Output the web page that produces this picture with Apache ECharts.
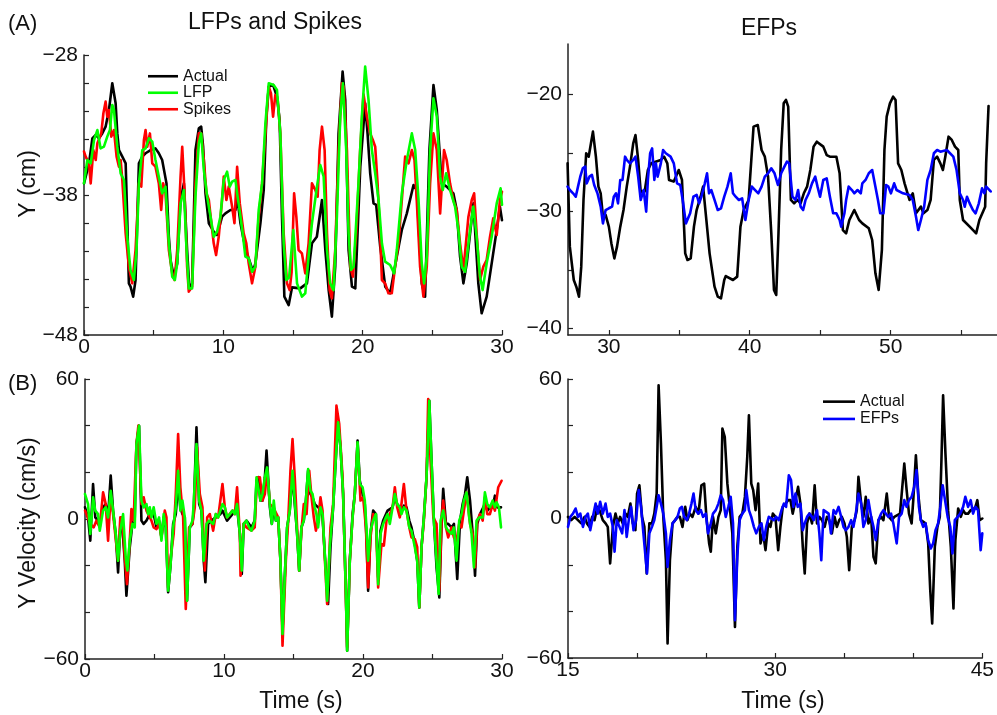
<!DOCTYPE html>
<html>
<head>
<meta charset="utf-8">
<script src="https://cdn.jsdelivr.net/npm/echarts@6/dist/echarts.min.js"></script>
<style>
html,body{margin:0;padding:0;background:#fff;}
#chart{width:997px;height:715px;}
</style>
</head>
<body>
<div id="chart"></div>
<script>
// ---------- DATA (time s, value) ----------
// Panel A left: Y position (cm), 0-30 s
const posActual = [[0,-37.17],[0.36,-35.74],[0.6,-33.95],[0.84,-33.71],[1.07,-33.95],[1.31,-33.6],[1.55,-33.12],[1.79,-31.93],[2.03,-30.02],[2.15,-30.14],[2.27,-31.45],[2.39,-33.6],[2.51,-34.79],[2.75,-35.26],[2.99,-35.74],[3.1,-39.55],[3.22,-44.31],[3.34,-44.55],[3.53,-45.26],[3.7,-44.07],[3.94,-35.74],[4.18,-35.26],[4.42,-35.02],[4.78,-34.79],[5.13,-34.67],[5.37,-35.02],[5.61,-35.5],[5.73,-35.38],[5.92,-37.17],[6.09,-40.98],[6.21,-42.64],[6.45,-43.83],[6.69,-42.88],[6.93,-38.36],[7.17,-37.17],[7.4,-41.93],[7.57,-44.79],[7.76,-44.31],[8,-34.79],[8.24,-33.24],[8.41,-33.12],[8.55,-34.55],[8.72,-37.88],[8.96,-40.02],[9.31,-40.62],[9.55,-40.86],[9.91,-39.55],[10.15,-39.31],[10.51,-39.07],[10.87,-39.07],[10.99,-38.12],[11.23,-40.02],[11.46,-41.21],[11.7,-42.17],[11.94,-42.88],[12.13,-43.48],[12.3,-42.88],[12.66,-40.02],[12.9,-37.64],[13.09,-32.4],[13.26,-30.26],[13.57,-30.14],[13.85,-30.98],[14.04,-32.64],[14.21,-39.55],[14.38,-45.26],[14.69,-45.86],[14.93,-44.6],[15.52,-44.67],[16,-44.31],[16.36,-41.45],[16.71,-40.98],[17.08,-38.36],[17.32,-41.93],[17.56,-44.79],[17.79,-46.69],[18.03,-43.12],[18.27,-33.6],[18.56,-29.19],[18.75,-31.21],[18.99,-41.93],[19.23,-44.55],[19.47,-44.67],[19.83,-35.98],[20.18,-31.45],[20.35,-33.6],[20.54,-36.45],[20.78,-38.6],[20.97,-38.71],[21.26,-41.69],[21.62,-44.55],[21.97,-45.02],[22.45,-42.4],[22.81,-40.5],[23.17,-39.31],[23.65,-37.29],[23.88,-37.64],[24.24,-44.31],[24.48,-45.26],[24.79,-34.79],[25.08,-30.14],[25.32,-31.93],[25.67,-37.17],[26.03,-37.4],[26.51,-37.88],[26.75,-39.07],[26.99,-42.4],[27.23,-44.31],[27.47,-42.88],[27.95,-38.6],[28.3,-44.31],[28.54,-46.45],[28.9,-45.26],[29.26,-42.88],[29.62,-40.5],[29.85,-38.83],[30,-39.8]];
const posLFP = [[0,-37.17],[0.24,-35.5],[0.48,-35.74],[0.72,-34.07],[0.96,-33.36],[1.19,-34.67],[1.43,-34.55],[1.67,-33.83],[1.86,-33.36],[2.03,-31.57],[2.15,-31.93],[2.39,-34.55],[2.63,-36.45],[2.87,-36.93],[3.1,-40.98],[3.34,-43.36],[3.58,-44.07],[3.77,-41.93],[3.94,-37.17],[4.18,-34.79],[4.42,-34.67],[4.66,-33.95],[4.9,-34.19],[5.13,-35.5],[5.37,-36.69],[5.61,-37.88],[5.85,-37.4],[6.09,-41.45],[6.33,-43.83],[6.52,-44.07],[6.69,-42.88],[6.93,-38.6],[7.17,-37.64],[7.36,-41.93],[7.52,-44.67],[7.76,-44.67],[8,-38.12],[8.24,-34.31],[8.41,-33.6],[8.6,-36.21],[8.84,-38.12],[9.08,-39.55],[9.31,-40.98],[9.55,-40.62],[9.79,-39.55],[10.03,-36.93],[10.27,-36.33],[10.46,-37.4],[10.63,-37.05],[10.87,-36.93],[10.99,-37.88],[11.23,-39.55],[11.42,-40.98],[11.58,-42.4],[11.82,-42.52],[12.06,-43.48],[12.3,-43.12],[12.54,-39.07],[12.78,-37.17],[13.02,-32.88],[13.26,-30.02],[13.61,-30.14],[13.85,-30.5],[14.09,-33.6],[14.33,-41.45],[14.52,-44.07],[14.72,-43.9],[15.02,-40.5],[15.29,-44.31],[15.64,-45.26],[15.88,-45.02],[16.12,-42.4],[16.36,-40.02],[16.72,-37.4],[16.96,-35.86],[17.2,-36.69],[17.44,-41.93],[17.67,-44.31],[17.91,-44.79],[18.15,-39.55],[18.39,-32.4],[18.58,-30.02],[18.82,-34.79],[18.99,-40.74],[19.16,-43.36],[19.35,-43.12],[19.7,-37.17],[19.94,-32.4],[20.18,-28.83],[20.42,-31.21],[20.66,-34.79],[20.9,-36.45],[21.14,-38.36],[21.38,-41.45],[21.61,-42.76],[21.97,-43],[22.26,-43.6],[22.45,-41.93],[22.81,-37.88],[23.17,-35.5],[23.53,-33.6],[23.77,-34.79],[24.01,-38.36],[24.24,-42.88],[24.41,-44.31],[24.6,-42.4],[24.84,-34.79],[25.08,-31.1],[25.32,-32.4],[25.56,-36.69],[25.75,-37.64],[25.99,-36.45],[26.27,-37.64],[26.63,-38.83],[26.87,-40.5],[27.11,-43.12],[27.35,-43.48],[27.71,-40.5],[27.94,-38.83],[28.18,-40.98],[28.42,-43.83],[28.61,-44.79],[28.9,-42.88],[29.26,-40.98],[29.62,-38.6],[29.9,-37.52],[30,-38.7]];
const posSpikes = [[0,-34.9],[0.12,-35.26],[0.36,-35.74],[0.48,-37.17],[0.67,-34.79],[0.84,-35.5],[0.96,-34.31],[1.24,-33.6],[1.39,-32.17],[1.55,-31.33],[1.67,-32.4],[1.79,-31.93],[1.96,-33.83],[2.15,-33.36],[2.34,-35.26],[2.51,-35.98],[2.63,-35.5],[2.75,-36.93],[2.99,-40.74],[3.22,-43.12],[3.46,-44.31],[3.7,-41.93],[3.94,-37.17],[4.11,-37.4],[4.3,-34.07],[4.42,-33.36],[4.54,-34.55],[4.73,-33.6],[4.9,-35.74],[5.13,-35.98],[5.37,-37.17],[5.54,-39.07],[5.68,-37.17],[5.85,-37.88],[6.09,-41.93],[6.33,-43.6],[6.5,-44.07],[6.69,-41.93],[6.93,-36.69],[7.05,-34.55],[7.21,-37.64],[7.4,-43.12],[7.52,-44.9],[7.76,-44.55],[8,-37.17],[8.24,-33.6],[8.41,-33.6],[8.6,-35.5],[8.79,-37.88],[8.96,-38.36],[9.12,-39.79],[9.31,-41.45],[9.48,-42.29],[9.67,-40.98],[9.91,-38.36],[10.03,-36.69],[10.22,-38.36],[10.39,-37.4],[10.63,-38.83],[10.8,-40.02],[10.99,-35.98],[11.18,-38.6],[11.46,-40.74],[11.65,-41.45],[11.82,-42.88],[12.06,-44.31],[12.3,-43.12],[12.54,-39.55],[12.78,-37.17],[13.02,-33.6],[13.26,-30.26],[13.42,-30.74],[13.57,-32.4],[13.73,-30.86],[13.9,-31.21],[14.09,-33.6],[14.33,-40.74],[14.57,-44.31],[14.76,-44.79],[14.9,-43.5],[15.08,-37.88],[15.24,-39.55],[15.4,-41.93],[15.64,-42.17],[15.88,-43.6],[16.12,-41.45],[16.36,-37.17],[16.6,-37.64],[16.77,-38.12],[16.91,-34.79],[17.08,-33.12],[17.27,-34.79],[17.44,-40.74],[17.63,-44.79],[17.79,-45.38],[18.03,-41.93],[18.27,-34.79],[18.51,-30.02],[18.63,-30.26],[18.87,-34.79],[19.11,-43.12],[19.3,-43.83],[19.54,-40.74],[19.82,-34.79],[20.06,-30.8],[20.3,-32.4],[20.54,-33.6],[20.73,-34.07],[20.9,-34.55],[21.07,-37.17],[21.26,-40.98],[21.38,-44.07],[21.61,-44.31],[21.85,-45.02],[22.09,-45.02],[22.33,-43.12],[22.57,-41.45],[22.81,-38.36],[23.05,-35.26],[23.29,-35.74],[23.53,-34.79],[23.72,-35.5],[23.88,-38.36],[24.12,-43.12],[24.36,-45.26],[24.6,-43.12],[24.84,-37.17],[25.08,-33.6],[25.32,-34.79],[25.56,-39.31],[25.84,-34.79],[26.03,-35.5],[26.27,-37.17],[26.51,-38.36],[26.75,-39.07],[26.99,-41.45],[27.23,-43.36],[27.59,-39.55],[27.83,-38.36],[28,-37.88],[28.18,-40.74],[28.42,-44.07],[28.66,-43.12],[28.9,-42.64],[29.14,-40.98],[29.37,-39.67],[29.62,-40.86],[29.85,-38.36],[30,-37.76]];

// Panel A right: Y position (cm), EFP decoding
const efpPosActual = [[27.07,-25.9],[27.23,-33.02],[27.51,-35.87],[27.69,-36.44],[27.88,-37.29],[28.04,-34.73],[28.2,-29.03],[28.39,-25.04],[28.57,-25.33],[28.73,-24.19],[28.87,-23.19],[29.08,-25.33],[29.26,-27.89],[29.42,-28.46],[29.58,-30.46],[29.77,-30.31],[30,-31.31],[30.18,-32.74],[30.39,-34.02],[30.58,-33.02],[30.81,-31.31],[31.04,-29.89],[31.27,-27.89],[31.5,-26.18],[31.73,-24.19],[31.89,-23.48],[32.08,-25.61],[32.26,-28.32],[32.54,-28.32],[32.77,-26.47],[33,-25.9],[33.69,-25.61],[33.92,-25.33],[34.15,-25.9],[34.27,-27.32],[34.61,-27.46],[34.96,-26.47],[35.19,-27.32],[35.42,-33.59],[35.58,-34.16],[35.81,-34.02],[36.04,-31.31],[36.23,-29.89],[36.51,-28.75],[36.69,-27.89],[36.92,-30.74],[37.15,-33.59],[37.5,-36.44],[37.73,-37.29],[37.96,-37.44],[38.19,-35.87],[38.3,-35.53],[38.81,-35.87],[39.11,-35.58],[39.34,-31.31],[39.57,-29.89],[39.92,-29.03],[40.27,-22.76],[40.57,-22.62],[40.84,-24.76],[41.07,-25.33],[41.3,-27.04],[41.53,-31.88],[41.72,-36.72],[41.88,-37.15],[42.04,-31.88],[42.23,-24.76],[42.41,-20.77],[42.57,-20.48],[42.73,-21.05],[42.92,-29.03],[43.15,-29.32],[43.38,-29.03],[43.61,-29.32],[43.84,-28.46],[44.07,-27.89],[44.3,-26.47],[44.53,-24.47],[44.76,-24.05],[45.22,-24.47],[45.46,-25.19],[45.69,-25.33],[46.15,-25.33],[46.38,-26.75],[46.61,-31.6],[46.84,-31.88],[47.07,-30.74],[47.42,-29.89],[47.76,-30.74],[47.99,-31.03],[48.45,-31.45],[48.69,-32.45],[48.92,-35.3],[49.15,-36.72],[49.38,-33.3],[49.56,-24.76],[49.72,-21.91],[49.95,-20.77],[50.18,-20.2],[50.35,-20.48],[50.53,-25.9],[50.76,-26.47],[50.99,-27.61],[51.34,-29.03],[51.57,-28.46],[51.8,-30.17],[52.15,-29.6],[52.33,-30.17],[52.61,-29.89],[52.84,-29.03],[53.07,-25.61],[53.3,-25.33],[53.53,-25.9],[53.71,-26.47],[53.88,-25.33],[54.11,-23.62],[54.34,-23.9],[54.57,-24.47],[54.8,-24.76],[54.91,-29.03],[55.14,-30.74],[55.61,-31.31],[56.07,-31.88],[56.3,-30.74],[56.71,-29.6],[56.78,-25.9],[56.95,-21]];
const efpPosDecoded = [[27.07,-27.89],[27.23,-28.18],[27.46,-28.46],[27.65,-28.75],[27.81,-27.89],[27.97,-27.04],[28.15,-26.32],[28.32,-26.18],[28.43,-27.61],[28.62,-27.04],[28.8,-26.89],[28.96,-27.75],[29.19,-28.46],[29.42,-29.6],[29.58,-31.03],[29.77,-29.89],[30,-29.74],[30.23,-29.6],[30.35,-28.75],[30.51,-28.46],[30.65,-29.32],[30.81,-27.32],[30.97,-27.32],[31.15,-25.33],[31.27,-25.61],[31.5,-25.9],[31.73,-25.61],[31.89,-25.33],[32.08,-27.04],[32.26,-29.03],[32.47,-28.18],[32.65,-30.03],[32.77,-27.32],[32.93,-25.04],[33.07,-24.62],[33.23,-27.32],[33.34,-25.9],[33.46,-27.04],[33.69,-25.9],[33.85,-24.76],[34.04,-25.04],[34.38,-25.33],[34.61,-25.9],[34.84,-27.61],[35.07,-27.75],[35.24,-29.03],[35.47,-31.03],[35.77,-30.17],[36,-28.75],[36.23,-28.6],[36.41,-29.32],[36.57,-28.75],[36.81,-27.61],[36.97,-26.75],[37.11,-28.46],[37.27,-28.18],[37.5,-29.03],[37.73,-29.89],[37.96,-29.74],[38.19,-28.75],[38.42,-27.89],[38.65,-26.75],[38.81,-28.46],[39,-28.75],[39.23,-29.03],[39.46,-28.89],[39.69,-30.74],[39.92,-29.03],[40.15,-27.89],[40.38,-28.18],[40.61,-28.46],[40.84,-27.89],[41.07,-27.04],[41.3,-26.75],[41.53,-26.32],[41.76,-26.75],[42,-27.75],[42.23,-26.75],[42.46,-26.18],[42.64,-25.75],[42.8,-25.9],[43.03,-28.75],[43.26,-29.03],[43.43,-28.18],[43.61,-29.6],[43.79,-29.89],[43.96,-29.03],[44.19,-28.46],[44.42,-27.61],[44.65,-27.04],[44.81,-27.89],[44.99,-28.75],[45.22,-27.32],[45.46,-27.18],[45.69,-28.75],[45.92,-30.17],[46.15,-30.17],[46.38,-30.74],[46.49,-31.31],[46.72,-30.17],[46.84,-29.03],[47.02,-27.89],[47.25,-28.18],[47.42,-28.46],[47.65,-28.18],[47.88,-28.46],[47.99,-27.61],[48.22,-27.32],[48.45,-26.75],[48.69,-26.47],[48.92,-27.89],[49.1,-29.03],[49.26,-30.17],[49.49,-30.17],[49.68,-27.75],[49.84,-27.89],[50.02,-28.46],[50.25,-27.61],[50.42,-28.18],[50.88,-28.46],[51.34,-28.6],[51.57,-29.03],[51.8,-30.46],[51.96,-31.6],[52.15,-30.74],[52.38,-29.6],[52.61,-27.32],[52.84,-26.47],[53.07,-25.04],[53.3,-24.76],[53.53,-24.9],[53.99,-24.76],[54.45,-25.33],[54.68,-26.47],[54.91,-28.46],[55.14,-29.03],[55.26,-29.6],[55.42,-28.75],[55.61,-29.32],[55.84,-29.89],[56.03,-30.17],[56.26,-29.32],[56.49,-28.03],[56.65,-28.46],[56.78,-27.89],[57.1,-28.3]];

// Panel B left: Y velocity (cm/s), 0-30 s
const velActual = [[0,5],[0.22,0.7],[0.38,-9.3],[0.58,15],[0.74,0.7],[0.94,-0.7],[1.06,-2.1],[1.3,5],[1.49,6.4],[1.66,0.7],[1.85,18.6],[2.02,3.6],[2.21,-6.4],[2.38,-22.9],[2.54,-3.6],[2.69,-3.6],[2.86,-17.9],[2.98,-32.9],[3.22,-12.1],[3.41,-2.1],[3.58,0.7],[3.7,32.1],[3.89,40],[4.06,-0.7],[4.22,-2.1],[4.42,-0.7],[4.66,2.1],[4.94,2.1],[5.14,-3.6],[5.33,-0.7],[5.5,-7.9],[5.66,0.7],[5.81,-3.6],[5.98,-31.4],[6.14,-20.7],[6.34,-2.1],[6.53,2.1],[6.7,15],[6.86,5],[7.01,2.1],[7.18,0.7],[7.34,-35],[7.54,-3.6],[7.73,-2.1],[7.82,3.6],[8.02,39.3],[8.21,6.4],[8.38,3.6],[8.54,-17.9],[8.66,-27.1],[8.86,-2.1],[9.1,-0.7],[9.41,0.7],[9.74,2.1],[9.89,3.6],[10.22,-0.7],[10.61,2.1],[10.94,5],[11.14,-6.4],[11.28,-23.6],[11.42,-2.1],[11.62,-0.7],[11.98,-3.6],[12.21,-0.7],[12.34,16.4],[12.48,17.9],[12.62,7.9],[12.77,7.9],[12.94,17.9],[13.06,29.3],[13.3,5],[13.44,-2.1],[13.58,5],[13.73,-0.7],[13.9,0.7],[14.06,-17.9],[14.21,-47.9],[14.37,-25],[14.54,-3.6],[14.73,3.6],[14.93,19.3],[15.09,6.4],[15.26,-6.4],[15.41,-22.1],[15.57,-3.6],[15.74,-0.7],[15.89,7.9],[16.05,20.7],[16.22,10.7],[16.37,9.3],[16.53,6.4],[16.77,5],[16.94,5],[17.09,0.7],[17.25,-15],[17.49,-36.4],[17.66,-12.1],[17.85,5],[18.09,30.7],[18.21,41.4],[18.38,30.7],[18.57,10.7],[18.77,-32.1],[18.86,-56.4],[19.05,-17.9],[19.25,2.1],[19.41,10.7],[19.61,33.6],[19.77,16.4],[19.97,10.7],[20.13,6.4],[20.25,-7.9],[20.37,-30.7],[20.54,-6.4],[20.73,3.6],[20.93,2.1],[21.09,-25],[21.26,-5],[21.45,-0.7],[21.77,3.6],[22.13,5],[22.29,9.3],[22.46,6.4],[22.65,5],[22.77,3.6],[22.94,5.7],[23.13,5],[23.33,-0.7],[23.49,-3.6],[23.73,-10.7],[23.9,-17.9],[24.05,-37.9],[24.21,-12.1],[24.38,0.7],[24.57,17.9],[24.77,50.7],[24.93,25],[25.1,-0.7],[25.29,-20.7],[25.49,-33.6],[25.66,-0.7],[25.77,12.9],[25.97,-2.1],[26.13,-2.1],[26.37,-3.6],[26.54,-2.1],[26.78,-25.7],[26.98,-0.7],[27.17,6.4],[27.34,10.7],[27.5,17.9],[27.7,7.9],[27.89,-6.4],[28.06,-24.3],[28.22,-2.1],[28.42,2.1],[28.77,6.4],[28.94,3.6],[29.13,5],[29.33,5],[29.49,10],[29.66,5],[29.93,5]];
const velLFP = [[0,10.7],[0.22,6.4],[0.38,-6.4],[0.58,9.3],[0.74,3.6],[0.94,2.1],[1.06,-5],[1.3,3.6],[1.49,5],[1.66,0.7],[1.85,12.1],[2.02,3.6],[2.21,-6.4],[2.38,-17.9],[2.54,-5],[2.74,2.1],[2.93,-16.4],[3.05,-22.1],[3.22,-9.3],[3.41,-2.1],[3.58,-3.6],[3.7,32.1],[3.89,40],[4.06,7.9],[4.22,5],[4.42,6.4],[4.54,2.1],[4.66,5],[4.78,0.7],[4.94,5],[5.14,-2.1],[5.33,0.7],[5.5,-9.3],[5.66,2.1],[5.81,-3.6],[5.98,-30.7],[6.14,-20.7],[6.34,-3.6],[6.53,5],[6.7,20.7],[6.86,3.6],[7.01,7.9],[7.18,0.7],[7.34,-35],[7.54,-3.6],[7.73,-0.7],[7.82,6.4],[8.02,32.1],[8.21,7.9],[8.38,3.6],[8.54,-17.9],[8.74,-2.1],[8.93,-0.7],[9.22,-2.1],[9.41,2.1],[9.58,0.7],[9.74,3.6],[9.89,6.4],[10.06,5],[10.22,0.7],[10.42,2.1],[10.61,3.6],[10.78,2.1],[10.94,6.4],[11.14,-6.4],[11.28,-22.1],[11.42,-2.1],[11.62,-0.7],[11.81,-3.6],[11.98,-5],[12.21,-0.7],[12.34,17.9],[12.48,18.6],[12.62,7.9],[12.77,10.7],[12.94,17.9],[13.1,22.1],[13.3,6.4],[13.44,-2.1],[13.58,7.9],[13.73,-0.7],[13.9,0.7],[14.06,-17.9],[14.21,-49.3],[14.37,-25],[14.54,-3.6],[14.73,3.6],[14.93,20.7],[15.09,7.9],[15.26,-6.4],[15.41,-22.1],[15.57,-3.6],[15.74,-0.7],[15.89,7.9],[16.05,21.4],[16.22,12.1],[16.37,10.7],[16.53,5],[16.65,2.1],[16.77,-3.6],[16.94,5],[17.09,2.1],[17.25,-15],[17.42,-35],[17.61,-12.1],[17.85,5],[18.09,30.7],[18.21,41.4],[18.38,30.7],[18.57,10.7],[18.77,-32.1],[18.86,-56.4],[19.05,-17.9],[19.25,0.7],[19.41,10.7],[19.61,32.9],[19.77,15],[19.97,13.6],[20.13,7.9],[20.25,-3.6],[20.37,-17.9],[20.54,-5],[20.73,-0.7],[20.93,2.1],[21.09,-27.9],[21.26,-6.4],[21.45,-2.1],[21.65,0.7],[21.77,2.1],[21.93,-2.1],[22.13,5],[22.29,10.7],[22.46,6.4],[22.65,5],[22.77,2.1],[22.94,5],[23.13,3.6],[23.33,-3.6],[23.49,-5],[23.73,-12.1],[23.9,-17.9],[24.05,-37.9],[24.21,-12.1],[24.38,0.7],[24.57,17.9],[24.77,50.7],[24.93,25],[25.1,-0.7],[25.29,-17.9],[25.44,-32.1],[25.58,-0.7],[25.77,3.6],[25.97,-3.6],[26.13,-5],[26.37,-6.4],[26.54,-3.6],[26.73,-17.9],[26.92,-0.7],[27.09,2.1],[27.26,7.9],[27.45,11.4],[27.64,0.7],[27.81,-6.4],[27.98,-20.7],[28.17,-0.7],[28.37,0.7],[28.61,0.7],[28.77,11.4],[28.94,6.4],[29.13,5],[29.33,7.9],[29.49,5],[29.61,7.1],[29.78,5],[29.93,-3.6]];
const velSpikes = [[0,3.6],[0.38,-2.1],[0.62,-3.6],[0.82,-0.7],[1.06,-3.6],[1.3,11.4],[1.49,6.4],[1.66,-9.3],[1.85,10.7],[2.02,2.1],[2.38,-17.9],[2.54,0.7],[2.69,0.7],[2.86,-16.4],[3.02,-27.9],[3.22,-9.3],[3.34,4.3],[3.5,-0.7],[3.7,32.1],[3.84,40],[4.06,6.4],[4.22,9.3],[4.42,3.6],[4.78,-0.7],[4.94,-3.6],[5.14,-4.3],[5.33,-2.1],[5.5,-7.9],[5.74,3.6],[5.86,0.7],[5.98,-29.3],[6.14,-17.9],[6.38,-6.4],[6.53,10.7],[6.7,36.4],[6.86,13.6],[7.06,0.7],[7.25,-38.6],[7.49,-3.6],[7.73,-2.1],[7.9,5],[8.06,30.7],[8.26,10.7],[8.45,5],[8.62,-22.1],[8.79,0.7],[8.98,2.1],[9.22,-5],[9.41,2.1],[9.58,0.7],[9.89,15],[10.06,5],[10.22,0.7],[10.61,3.6],[10.78,2.1],[10.94,13.6],[11.14,-6.4],[11.19,-24.3],[11.42,-2.1],[11.62,-3.6],[11.98,-5],[12.21,-3.6],[12.38,17.9],[12.58,17.9],[12.77,7.9],[12.94,10.7],[13.1,20.7],[13.3,6.4],[13.54,5],[13.9,0.7],[14.06,-17.9],[14.21,-54.3],[14.45,-17.9],[14.62,-0.7],[14.78,20.7],[14.93,34.3],[15.09,17.9],[15.26,-3.6],[15.41,-22.1],[15.57,-5],[15.74,6.4],[15.94,2.1],[16.13,20.7],[16.3,9.3],[16.46,0.7],[16.61,-5],[16.77,-0.7],[16.94,9.3],[17.09,3.6],[17.25,-16.4],[17.42,-36.4],[17.66,-3.6],[17.85,6.4],[18.09,48.6],[18.29,40.7],[18.53,17.9],[18.7,-17.9],[18.86,-55],[19.05,-17.9],[19.25,0.7],[19.41,10.7],[19.61,32.1],[19.82,7.9],[20.01,9.3],[20.21,-3.6],[20.37,-29.3],[20.54,-7.9],[20.73,2.1],[20.93,-0.7],[21.09,-29.3],[21.33,-10.7],[21.5,-11.4],[21.69,-0.7],[21.93,2.1],[22.13,5],[22.29,13.6],[22.46,5],[22.65,0.7],[22.94,15],[23.13,3.6],[23.33,-3.6],[23.49,-7.9],[23.73,-8.6],[23.9,-12.1],[24.05,-37.9],[24.21,-12.1],[24.38,-0.7],[24.57,17.9],[24.69,51.4],[24.86,25],[25.06,0.7],[25.29,-2.1],[25.49,-30.7],[25.66,0.7],[25.77,7.9],[25.97,-3.6],[26.13,-7.9],[26.37,-3.6],[26.54,-7.9],[26.73,-9.3],[26.92,-2.1],[27.09,-3.6],[27.26,3.6],[27.45,11.4],[27.7,-2.1],[27.89,-6.4],[28.06,-20.7],[28.22,-0.7],[28.42,2.1],[28.61,-0.7],[28.77,9.3],[28.94,2.1],[29.13,2.1],[29.33,6.4],[29.49,3.6],[29.73,13.6],[29.97,16.4]];

// Panel B right: Y velocity (cm/s), EFP decoding
const efpVelActual = [[15,0.7],[15.24,-0.7],[15.48,0.7],[15.72,-0.7],[15.96,-2.1],[16.2,0.7],[16.37,-2.1],[16.56,-3.6],[16.75,0.7],[16.92,-0.7],[17.12,5],[17.28,3.6],[17.52,-0.7],[17.72,-2.1],[17.88,-3.6],[18.05,-19.3],[18.25,-3.6],[18.44,2.1],[18.61,-2.1],[18.77,0.7],[18.97,-2.1],[19.16,2.1],[19.33,0.7],[19.52,6.4],[19.69,-2.1],[19.88,-5],[20,10.7],[20.17,14.3],[20.36,0.7],[20.53,-3.6],[20.7,-23.6],[20.89,-2.1],[21.08,-2.1],[21.25,2.1],[21.42,10.7],[21.56,57.3],[21.73,32.2],[21.9,0.7],[22.09,-17.9],[22.21,-53.7],[22.38,-17.9],[22.57,-2.1],[22.76,-0.7],[22.93,0.7],[23.1,0.7],[23.29,-3.6],[23.49,5],[23.65,-0.7],[23.82,2.1],[24.01,0.7],[24.25,5],[24.45,2.1],[24.66,14.3],[24.86,15],[25.02,0.7],[25.22,-10.7],[25.34,-14.3],[25.5,0.7],[25.7,-6.4],[25.89,0.7],[26.06,3.6],[26.18,38.7],[26.35,35.1],[26.54,15],[26.71,5],[26.9,-6.4],[27.09,-46.6],[27.26,-12.2],[27.43,0.7],[27.62,2.1],[27.81,9.3],[27.98,26.5],[28.1,44.4],[28.27,15],[28.41,12.2],[28.58,3.6],[28.77,15],[28.94,-10.7],[29.13,-6.4],[29.3,-13.6],[29.5,-2.1],[29.66,-3.6],[29.83,2.1],[30.02,0.7],[30.22,-13.6],[30.38,-3.6],[30.55,5],[30.75,6.4],[30.94,7.9],[31.11,7.9],[31.27,2.1],[31.47,7.9],[31.66,13.6],[31.83,6.4],[32,-12.2],[32.14,-23.6],[32.31,-2.1],[32.48,2.1],[32.67,-2.1],[32.86,14.3],[33.03,-2.1],[33.2,0.7],[33.39,-0.7],[33.58,-3.6],[33.75,0.7],[33.92,-0.7],[34.11,-6.4],[34.3,0.7],[34.47,-3.6],[34.64,-0.7],[34.83,0.7],[35.02,-2.1],[35.19,-7.9],[35.36,-22.2],[35.55,-3.6],[35.75,-0.7],[35.91,3.6],[36.03,17.9],[36.23,6.4],[36.39,0.7],[36.56,9.3],[36.75,-2.1],[36.95,0.7],[37.12,-16.5],[37.28,-19.3],[37.48,-0.7],[37.67,0.7],[37.84,-0.7],[38.08,10.7],[38.25,0.7],[38.44,-0.7],[38.63,0.7],[39.04,2.1],[39.16,2.1],[39.35,23.6],[39.52,12.2],[39.69,2.1],[39.88,-2.1],[40,7.9],[40.19,27.2],[40.36,10.7],[40.55,-0.7],[40.89,-2.1],[41.08,-10.7],[41.23,-30.8],[41.37,-45.1],[41.56,-12.2],[41.75,-3.6],[41.92,0.7],[42.04,25.1],[42.16,53],[42.33,27.9],[42.52,3.6],[42.72,-12.2],[42.91,-38.7],[43.05,-9.3],[43.25,4.3],[43.44,0.7],[43.61,3.6],[43.77,2.1],[43.97,2.1],[44.16,3.6],[44.33,3.6],[44.5,5],[44.64,7.9],[44.81,-0.7],[45,0]];
const efpVelDecoded = [[15,-3.6],[15.17,0.7],[15.36,2.1],[15.55,4.3],[15.72,0.7],[15.89,2.1],[16.08,-3.6],[16.27,0.7],[16.44,2.1],[16.61,-5],[16.8,0.7],[17,6.4],[17.16,2.1],[17.33,7.2],[17.52,2.1],[17.72,6.4],[17.88,0.7],[18.05,2.1],[18.25,-3.6],[18.37,-14.3],[18.53,-0.7],[18.73,-3.6],[18.92,-6.4],[19.09,3.6],[19.25,-7.9],[19.4,-0.7],[19.57,5],[19.74,-5],[19.93,-0.7],[20.12,12.2],[20.29,5],[20.46,-6.4],[20.72,-23.6],[20.89,-6.4],[21.08,-3.6],[21.25,-0.7],[21.42,5],[21.56,10],[21.73,6.4],[21.9,2.1],[22.09,-6.4],[22.21,-20.8],[22.38,-9.3],[22.57,-2.1],[22.76,-0.7],[22.93,0.7],[23.1,4.3],[23.25,5],[23.41,0.7],[23.61,-0.7],[23.77,2.1],[23.94,6.4],[24.09,10.7],[24.25,3.6],[24.42,2.1],[24.62,3.6],[24.78,0.7],[24.98,2.1],[25.14,-6.4],[25.34,-2.1],[25.5,2.1],[25.7,3.6],[25.89,6.4],[26.06,10],[26.23,7.9],[26.42,0.7],[26.61,5],[26.78,9.3],[26.95,-2.1],[27.09,-43.7],[27.26,-16.5],[27.43,-0.7],[27.62,2.1],[27.81,3.6],[27.91,12.2],[28.1,3.6],[28.27,0.7],[28.46,-3.6],[28.63,-6.4],[28.82,-3.6],[29.01,-2.1],[29.18,-9.3],[29.35,-3.6],[29.54,0.7],[29.9,-0.7],[30.07,0.7],[30.26,-0.7],[30.46,3.6],[30.63,6.4],[30.79,5],[30.99,18.6],[31.15,16.5],[31.32,5],[31.47,10.7],[31.63,5],[31.83,6.4],[32,-5],[32.14,-2.1],[32.31,0.7],[32.48,2.1],[32.67,0.7],[32.79,-0.7],[33.03,3.6],[33.2,-6.4],[33.34,-17.9],[33.51,3.6],[33.87,2.1],[34.04,-6.4],[34.23,3.6],[34.4,2.1],[34.59,5],[34.78,0.7],[34.95,-3.6],[35.12,-5],[35.31,-3.6],[35.5,-0.7],[35.67,-3.6],[35.84,2.1],[36.03,10.7],[36.23,6.4],[36.39,-3.6],[36.56,-0.7],[36.75,7.9],[36.95,0.7],[37.12,-3.6],[37.28,-9.3],[37.48,-0.7],[37.67,2.1],[37.84,3.6],[38.01,2.1],[38.2,0.7],[38.39,2.1],[38.56,-2.1],[38.8,-10.7],[38.97,0.7],[39.16,2.1],[39.35,7.9],[39.52,5],[39.69,7.9],[39.88,9.3],[40.07,13.6],[40.24,20.8],[40.41,5],[40.55,-0.7],[40.72,-3.6],[40.89,-2.1],[41.08,-9.3],[41.27,-12.9],[41.44,-10.7],[41.61,-5],[41.8,-2.1],[41.96,5],[42.13,14.3],[42.3,7.9],[42.49,0.7],[42.68,-3.6],[42.84,-15],[43.01,-0.7],[43.21,0.7],[43.4,2.1],[43.61,5],[43.77,9.3],[43.97,5],[44.16,7.9],[44.33,2.1],[44.5,5],[44.69,3.6],[44.88,-13.6],[45,-6.4]];

// Tick values
const posTicks = [-48,-46,-44,-42,-40,-38,-36,-34,-32,-30,-28];
const posLabels = [-48,-38,-28];
const efpPosTicks = [-40,-35,-30,-25,-20];
const efpPosLabels = [-40,-30,-20];
const velTicks = [-60,-40,-20,0,20,40,60];
const velLabels = [-60,0,60];
const timeTicksA = [0,5,10,15,20,25,30];
const timeLabelsA = [0,10,20,30];
const efpTimeTicksA = [30,35,40,45,50,55];
const efpTimeLabelsA = [30,40,50];
const efpTimeTicksB = [15,20,25,30,35,40,45];
const efpTimeLabelsB = [15,30,45];

// ---------- CHART ----------
const FONT = '"Liberation Sans", Arial, Helvetica, sans-serif';
const INK = '#111';
const LW = 2.6;
const fmt = v => String(v).replace('-', '\u2212');

function xAx(gi, min, max, ticks, labels) {
  return {
    type: 'value', gridIndex: gi, min: min, max: max,
    axisLine: { show: true, onZero: false, lineStyle: { color: '#222', width: 1.5 } },
    axisTick: { show: true, inside: true, length: 5, customValues: ticks, lineStyle: { color: '#222', width: 1.2 } },
    axisLabel: { customValues: labels, formatter: fmt, fontSize: 21, color: INK, margin: 2, fontFamily: FONT },
    splitLine: { show: false }
  };
}
function yAx(gi, min, max, ticks, labels) {
  return {
    type: 'value', gridIndex: gi, min: min, max: max,
    axisLine: { show: true, onZero: false, lineStyle: { color: '#222', width: 1.5 } },
    axisTick: { show: true, inside: true, length: 5, customValues: ticks, lineStyle: { color: '#222', width: 1.2 } },
    axisLabel: { customValues: labels, formatter: fmt, fontSize: 21, color: INK, margin: 6, fontFamily: FONT },
    splitLine: { show: false }
  };
}
function ln(name, data, color, idx, z) {
  return {
    name: name, type: 'line', xAxisIndex: idx, yAxisIndex: idx, data: data,
    showSymbol: false, symbol: 'none', smooth: false, z: z,
    color: color, itemStyle: { color: color },
    lineStyle: { color: color, width: LW, join: 'round', cap: 'round' },
    emphasis: { disabled: true }, animation: false
  };
}
function txt(t, x, y, size, align, rot) {
  return {
    type: 'text', x: x, y: y, rotation: rot || 0,
    style: { text: t, fill: INK, font: size + 'px ' + FONT, textAlign: align, textVerticalAlign: 'middle', verticalAlign: 'middle' }
  };
}

const chart = echarts.init(document.getElementById('chart'), null, { renderer: 'canvas' });
chart.setOption({
  backgroundColor: '#ffffff',
  animation: false,
  grid: [
    { left: 84, top: 55, width: 418, height: 280 },
    { left: 568, top: 44, width: 440, height: 291 },
    { left: 85, top: 379, width: 417, height: 280 },
    { left: 568, top: 379, width: 416, height: 279 }
  ],
  xAxis: [
    xAx(0, 0, 30, timeTicksA, timeLabelsA),
    xAx(1, 27.1, 57.55, efpTimeTicksA, efpTimeLabelsA),
    xAx(2, 0, 30, timeTicksA, timeLabelsA),
    xAx(3, 15, 45, efpTimeTicksB, efpTimeLabelsB)
  ],
  yAxis: [
    yAx(0, -48, -28, posTicks, posLabels),
    yAx(1, -40.57, -15.7, efpPosTicks, efpPosLabels),
    yAx(2, -60, 60, velTicks, velLabels),
    yAx(3, -60, 60, velTicks, velLabels)
  ],
  legend: [
    { data: ['Actual', 'LFP', 'Spikes'], left: 148, top: 68, orient: 'vertical', icon: 'rect',
      itemWidth: 30, itemHeight: LW, itemGap: 0, padding: 0, selectedMode: false,
      textStyle: { fontSize: 16, lineHeight: 16.5, color: INK, fontFamily: FONT } },
    { data: ['Actual', 'EFPs'], left: 823, top: 393, orient: 'vertical', icon: 'rect',
      itemWidth: 32, itemHeight: LW, itemGap: 0, padding: 0, selectedMode: false,
      textStyle: { fontSize: 16, lineHeight: 17.3, color: INK, fontFamily: FONT } }
  ],
  series: [
    ln('Actual', posActual, '#000000', 0, 2),
    ln('Spikes', posSpikes, '#ff0000', 0, 3),
    ln('LFP', posLFP, '#00ff00', 0, 4),
    ln('Actual', efpPosActual, '#000000', 1, 2),
    ln('EFPs', efpPosDecoded, '#0000ff', 1, 3),
    ln('Actual', velActual, '#000000', 2, 2),
    ln('Spikes', velSpikes, '#ff0000', 2, 3),
    ln('LFP', velLFP, '#00ff00', 2, 4),
    ln('Actual', efpVelActual, '#000000', 3, 2),
    ln('EFPs', efpVelDecoded, '#0000ff', 3, 3)
  ],
  graphic: [
    txt('(A)', 8, 24, 22, 'left'),
    txt('LFPs and Spikes', 275, 23, 23, 'center'),
    txt('EFPs', 769, 29, 23, 'center'),
    txt('(B)', 8, 384, 22, 'left'),
    txt('Y (cm)', 29, 184, 23, 'center', Math.PI / 2),
    txt('Y Velocity (cm/s)', 29, 523, 23, 'center', Math.PI / 2),
    txt('Time (s)', 301, 702, 23, 'center'),
    txt('Time (s)', 783, 702, 23, 'center')
  ]
});
</script>
</body>
</html>
